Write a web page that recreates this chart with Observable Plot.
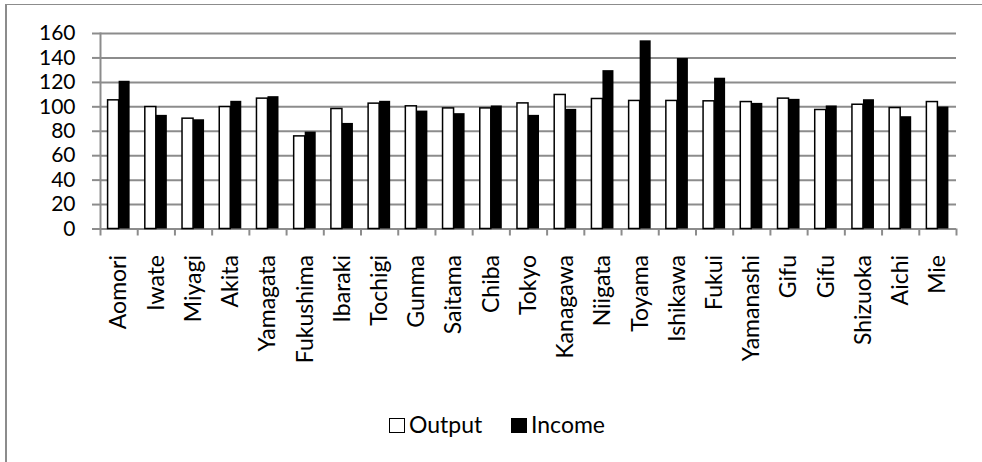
<!DOCTYPE html>
<html>
<head>
<meta charset="utf-8">
<script src="https://cdn.jsdelivr.net/npm/d3@7"></script>
<script src="https://cdn.jsdelivr.net/npm/@observablehq/plot@0.6"></script>
<style>
  body { margin: 0; background: #fff; font-family: Lato, sans-serif; }
  #wrap { position: relative; width: 982px; height: 462px; overflow: hidden; background: #fff; }
  #frame { position: absolute; left: 5px; top: 4px; width: 1200px; height: 700px;
           border-top: 1.5px solid #8c8c8c; border-left: 2px solid #8c8c8c; }
  #chart { position: absolute; left: 0; top: 0; }
  #legend { position: absolute; left: 0; top: 0; width: 982px; height: 462px; pointer-events: none; }
  .sw { position: absolute; width: 16px; height: 15px; box-sizing: border-box; border: 1.5px solid #000; }
  .lt { position: absolute; font-size: 23px; line-height: 23px; color: #000; }
</style>
</head>
<body>
<div id="wrap">
  <div id="frame"></div>
  <div id="chart"></div>
  <div id="legend"></div>
</div>
<script>
const prefectures = ["Aomori","Iwate","Miyagi","Akita","Yamagata","Fukushima","Ibaraki","Tochigi","Gunma","Saitama","Chiba","Tokyo","Kanagawa","Niigata","Toyama","Ishikawa","Fukui","Yamanashi","Gifu","Gifu","Shizuoka","Aichi","Mie"];
const output = [105.3, 99.8, 90.3, 99.8, 106.7, 75.8, 98.2, 102.6, 100.4, 98.7, 98.7, 102.8, 109.7, 106.4, 104.8, 104.8, 104.5, 103.9, 106.7, 97.4, 101.7, 99.0, 103.9];
const income = [120.9, 93.0, 89.4, 104.5, 108.3, 79.3, 86.4, 104.5, 96.5, 94.4, 100.7, 93.0, 97.9, 129.6, 154.0, 139.5, 123.4, 102.8, 106.1, 100.7, 105.8, 91.9, 99.8];
const seriesNames = ["Output", "Income"];
const yTicks = [0, 20, 40, 60, 80, 100, 120, 140, 160];

const n = prefectures.length;
const idx = d3.range(n);
const data = idx.map(i => ({i, name: prefectures[i], output: output[i], income: income[i]}));

const W = 982, H = 400, ML = 100, MR = 26, MT = 33, MB = H - 228.5;
const step = (W - ML - MR) / n;
const pin = 0.704;
const bw = step * (1 - pin);
const gray = "#8c8c8c";

const chart = Plot.plot({
  width: W, height: H,
  marginLeft: ML, marginRight: MR, marginTop: MT, marginBottom: MB,
  style: {fontFamily: "Lato, sans-serif", background: "transparent", color: "#000"},
  x: {type: "band", domain: idx, paddingInner: pin, paddingOuter: pin / 2, round: false, axis: null, label: null},
  y: {domain: [0, 160], axis: null, label: null},
  marks: [
    Plot.ruleY(yTicks, {stroke: gray, strokeWidth: 2}),
    Plot.barY(data, {x: "i", y: "output", fill: "white", stroke: "black", strokeWidth: 1.5, dx: -bw / 2}),
    Plot.barY(data, {x: "i", y: "income", fill: "black", dx: bw / 2}),
    Plot.frame({anchor: "left", stroke: gray, strokeWidth: 2}),
    Plot.ruleX(idx, {x: d => d, y1: 0, y2: 0, insetBottom: -7, dx: -step / 2, stroke: gray, strokeWidth: 2}),
    Plot.ruleX([n - 1], {x: d => d, y1: 0, y2: 0, insetBottom: -7, dx: step / 2, stroke: gray, strokeWidth: 2}),
    Plot.axisY(yTicks, {tickSize: 8, tickPadding: 17, fontSize: 21, stroke: gray, strokeWidth: 2, fill: "#000", label: null}),
    Plot.axisX(idx, {tickSize: 0, tickPadding: 26, tickRotate: -90, fontSize: 23, fill: "#000", label: null,
                     tickFormat: i => prefectures[i]})
  ]
});
document.getElementById("chart").appendChild(chart);

// legend
const legend = document.getElementById("legend");
const items = [
  {name: seriesNames[0], fill: "#fff", left: 389},
  {name: seriesNames[1], fill: "#000", left: 511}
];
for (const it of items) {
  const sw = document.createElement("div");
  sw.className = "sw";
  sw.style.left = it.left + "px";
  sw.style.top = "418px";
  sw.style.background = it.fill;
  legend.appendChild(sw);
  const t = document.createElement("div");
  t.className = "lt";
  t.textContent = it.name;
  t.style.left = (it.left + 20) + "px";
  t.style.top = "413px";
  legend.appendChild(t);
}
</script>
</body>
</html>
